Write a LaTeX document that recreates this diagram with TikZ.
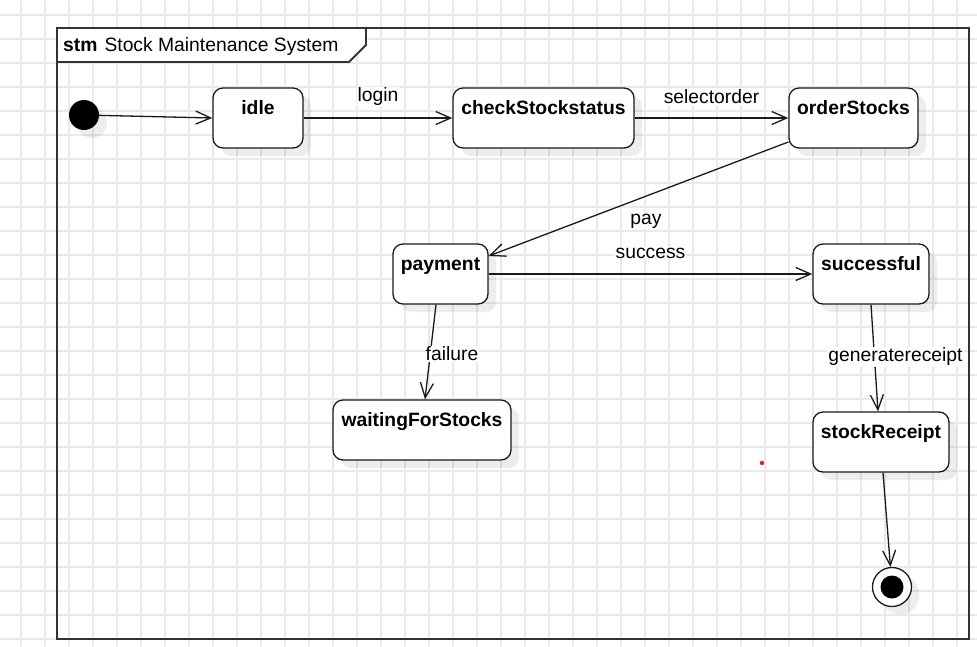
\documentclass[tikz,border=0pt]{standalone}
\usepackage{fontspec}
\setmainfont{Liberation Sans}
\usepackage{tikz}
\usetikzlibrary{positioning,arrows.meta,shadows}
\definecolor{ink900}  {HTML}{1A1A1A}
\definecolor{ink700}  {HTML}{333333}
\definecolor{grid200} {HTML}{EAEAEA}
\definecolor{red500}  {HTML}{E3222B}
\newcommand{\dgfont}{\fontsize{19.3}{23}\selectfont}
\tikzset{
  gridline/.style={draw=grid200, line width=1.1pt},
  frameline/.style={draw=ink700, line width=1.8pt},
  shade/.style  ={drop shadow={shadow xshift=8pt, shadow yshift=-8pt,
                  fill=black, opacity=0.07}},
  state/.style  ={draw=ink900, line width=1.3pt, fill=white,
                  rounded corners=10pt, inner xsep=2pt, inner ysep=0pt,
                  text height=26pt, text depth=34pt,
                  font=\dgfont\bfseries, shade},
  initst/.style ={circle, fill=black, minimum size=30pt, inner sep=0pt,
                  shade},
  finalst/.style={circle, draw=ink900, line width=1.3pt, fill=white,
                  minimum size=39pt, inner sep=0pt, shade,
                  path picture={\fill[black] (path picture bounding box.center)
                    circle (11.5pt);}},
  tr/.style     ={draw=ink900, line width=1.3pt,
                  -{Straight Barb[length=15pt,width=13pt]}},
  lbl/.style    ={fill=white, inner sep=1pt, font=\dgfont}
}
\begin{document}
\begin{tikzpicture}[x=1pt,y=-1pt]
\useasboundingbox (0,0) rectangle (977,646);
\fill[white] (0,0) rectangle (977,646);
% background grid
\foreach \gx in {0,...,39}
  \draw[gridline] ({21+24*\gx},0) -- ({21+24*\gx},646);
\foreach \gy in {0,...,26}
  \draw[gridline] (0,{15+24*\gy}) -- (977,{15+24*\gy});

% frame with its tab
\draw[frameline] (57,28) rectangle (969,639);
\draw[frameline, fill=white] (57,28) -- (366,28) -- (366,45) -- (349,62)
  -- (57,62) -- cycle;
\node[anchor=base west, inner sep=0pt, font=\dgfont] (title) at (63,51)
  {\textbf{stm}\hspace{7pt}Stock Maintenance System};

% states
\node[initst] (init) at (84,115) {};
\node[state, minimum width=90pt]  (idle)    at (258,118)   {idle};
\node[state, minimum width=181pt] (check)   at (543.5,118) {checkStockstatus};
\node[state, minimum width=129pt] (order)   at (853.5,118) {orderStocks};
\node[state, minimum width=95pt]  (payment) at (440.5,274) {payment};
\node[state, minimum width=116pt] (success) at (871,274)   {successful};
\node[state, minimum width=178pt] (waiting) at (422,430)   {waitingForStocks};
\node[state, minimum width=136pt] (receipt) at (881,442)   {stockReceipt};
\node[finalst] (final) at (892,587) {};

% transitions
\draw[tr] (init) -- (idle.west);
\draw[tr] (idle) -- node[lbl,pos=0.5,yshift=21pt]{login} (check);
\draw[tr] (check) -- node[lbl,pos=0.5,yshift=21pt]{selectorder} (order);
\draw[tr] ([yshift=-24pt]order.west) --
  node[lbl,pos=0.5,shift={(7.5pt,-22pt)}]{pay} ([yshift=18pt]payment.east);
\draw[tr] (payment) -- node[lbl,pos=0.5,yshift=21pt]{success} (success);
\draw[tr] ([xshift=-4.5pt]payment.south) --
  node[lbl,pos=0.5,xshift=21.5pt,yshift=-2pt]{failure}
  ([xshift=3pt]waiting.north);
\draw[tr] (success.south) --
  node[lbl,pos=0.5,xshift=21pt,yshift=1pt]{generatereceipt}
  ([xshift=-3pt]receipt.north);
\draw[tr] ([xshift=2pt]receipt.south) -- (final);

\fill[red500] (762,463) circle (2.2);
\end{tikzpicture}
\end{document}
